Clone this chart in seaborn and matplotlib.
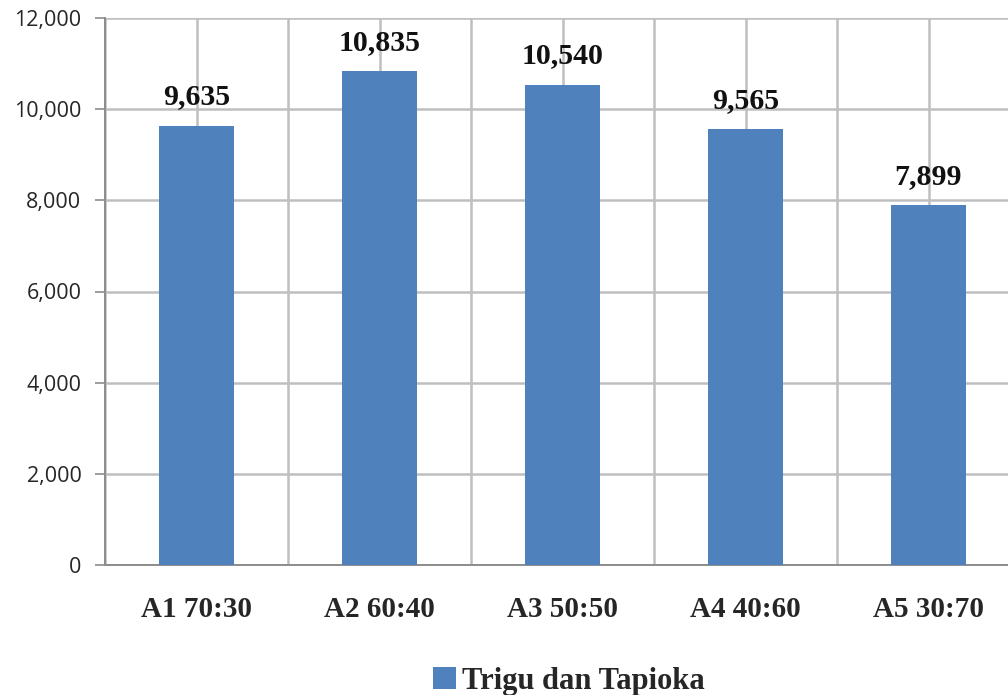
import matplotlib
matplotlib.use("Agg")
import matplotlib.pyplot as plt
from matplotlib.patches import Patch
from matplotlib.ticker import FixedLocator, FuncFormatter
import pandas as pd
import seaborn as sns

# Data
categories = ["A1 70:30", "A2 60:40", "A3 50:50", "A4 40:60", "A5 30:70"]
values = [9635, 10835, 10540, 9565, 7899]
value_labels = ["9,635", "10,835", "10,540", "9,565", "7,899"]
series_name = "Trigu dan Tapioka"
y_ticks = [0, 2000, 4000, 6000, 8000, 10000, 12000]

bar_color = "#4F81BD"
grid_color = "#BFBFBF"
axis_color = "#8C8C8C"
serif = ["Liberation Serif", "DejaVu Serif"]
sans = ["Open Sans", "DejaVu Sans"]

sns.set_theme(style="white")
plt.rcParams["font.family"] = serif

df = pd.DataFrame({"kategori": categories, "nilai": values})

fig = plt.figure(figsize=(10.08, 6.95), dpi=100)
ax = fig.add_axes([105 / 1008, 1 - 565 / 695, (1020 - 105) / 1008, (565 - 18) / 695])

sns.barplot(data=df, x="kategori", y="nilai", color=bar_color, width=0.405,
            saturation=1, linewidth=0, edgecolor="none", ax=ax, zorder=3)

ax.set_xlim(-0.5, len(categories) - 0.5)
ax.set_ylim(0, 12000)
ax.set_xlabel("")
ax.set_ylabel("")

# Y axis
ax.set_yticks(y_ticks)
ax.yaxis.set_major_formatter(FuncFormatter(lambda v, p: f"{int(v):,}"))
for lab in ax.get_yticklabels():
    lab.set_fontfamily(sans)
    lab.set_fontsize(15.5)
    lab.set_color("#262626")
ax.tick_params(axis="y", length=7, width=1.2, color=axis_color, pad=10, left=True)

# X axis
ax.tick_params(axis="x", length=0, pad=22, labelsize=21)
for lab in ax.get_xticklabels():
    lab.set_fontweight("bold")
    lab.set_fontfamily(serif)

# Gridlines: horizontal at value ticks, vertical at centres and boundaries
ax.grid(axis="y", color=grid_color, linewidth=1.8, zorder=0)
ax.xaxis.set_minor_locator(FixedLocator([i + 0.5 for i in range(-1, len(categories))]))
ax.grid(axis="x", which="both", color=grid_color, linewidth=1.8, zorder=0)
ax.tick_params(axis="x", which="minor", length=0)
ax.set_axisbelow(True)

for side in ["top", "right"]:
    ax.spines[side].set_visible(False)
for side in ["left", "bottom"]:
    ax.spines[side].set_color(axis_color)
    ax.spines[side].set_linewidth(1.4)

# Value labels
for i, (v, t) in enumerate(zip(values, value_labels)):
    ax.annotate(t, (i, v), xytext=(0, 11), textcoords="offset points",
                ha="center", va="bottom", fontsize=21.5, fontweight="bold",
                color="#111111", zorder=4)

# Legend
handle = Patch(facecolor=bar_color, edgecolor="none")
fig.legend([handle], [series_name], loc="center", bbox_to_anchor=(569 / 1008, 1 - 681 / 695),
           frameon=False, prop={"family": serif, "weight": "bold", "size": 22},
           handlelength=0.75, handleheight=0.75, handletextpad=0.2)

fig.savefig("out.png", dpi=100)
